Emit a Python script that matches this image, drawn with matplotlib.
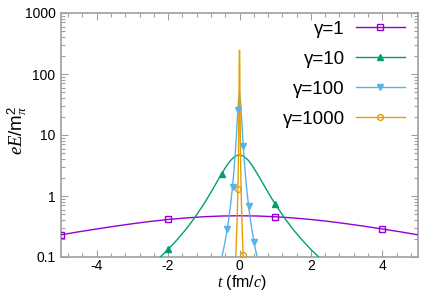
import matplotlib
matplotlib.use("Agg")
import matplotlib.pyplot as plt
from matplotlib.ticker import FixedLocator, MultipleLocator, LogLocator, NullFormatter, FixedFormatter

plt.rcParams['font.family'] = ['Liberation Sans', 'DejaVu Sans']
plt.rcParams['mathtext.fontset'] = 'custom'
plt.rcParams['mathtext.rm'] = 'Liberation Sans'
plt.rcParams['mathtext.it'] = 'Liberation Serif:italic'
plt.rcParams['axes.unicode_minus'] = False

# ---- data ----
labels = ['γ=1', 'γ=10', 'γ=100', 'γ=1000']

t1 = [-5, -4.5, -4, -3.5, -3, -2.5, -2, -1.5, -1, -0.5, 0, 0.5, 1, 1.5, 2, 2.5, 3, 3.5, 4, 4.5, 5]
e1 = [0.231, 0.259, 0.288, 0.319, 0.351, 0.383, 0.412, 0.437, 0.457, 0.470, 0.474,
      0.470, 0.457, 0.437, 0.412, 0.383, 0.351, 0.319, 0.288, 0.259, 0.231]
m1 = [0, 6, 12, 18]

t10 = [-2.5, -2.25, -2, -1.75, -1.5, -1.25, -1, -0.875, -0.75, -0.625, -0.5, -0.375, -0.25, -0.125, 0,
       0.125, 0.25, 0.375, 0.5, 0.625, 0.75, 0.875, 1, 1.25, 1.5, 1.75, 2, 2.25, 2.5]
e10 = [0.0717, 0.0963, 0.133, 0.191, 0.284, 0.445, 0.737, 0.969, 1.29, 1.73, 2.31, 3.04, 3.83, 4.48, 4.74,
       4.48, 3.83, 3.04, 2.31, 1.73, 1.29, 0.969, 0.737, 0.445, 0.284, 0.191, 0.133, 0.0963, 0.0717]
m10 = [2, 10, 22]

t100 = [-0.55, -0.5, -0.45, -0.4, -0.345, -0.3, -0.25, -0.195, -0.15, -0.125, -0.1, -0.075, -0.045, -0.025, 0,
        0.025, 0.05, 0.075, 0.105, 0.125, 0.15, 0.2, 0.255, 0.3, 0.35, 0.405, 0.45, 0.5, 0.55]
e100 = [0.0725, 0.0962, 0.131, 0.185, 0.285, 0.427, 0.717, 1.43, 2.84, 4.45, 7.37, 12.9, 25.9, 38.3, 47.4,
        38.3, 23.1, 12.9, 6.63, 4.45, 2.84, 1.33, 0.677, 0.427, 0.274, 0.179, 0.131, 0.0962, 0.0725]
m100 = [4, 7, 12, 18, 22, 25]

t1000 = [-0.125, -0.115, -0.105, -0.095, -0.085, -0.075, -0.065, -0.055, -0.045, -0.035, -0.025, -0.015, -0.005,
         0.005, 0.015, 0.025, 0.035, 0.045, 0.055, 0.065, 0.075, 0.085, 0.095, 0.105, 0.115, 0.125]
e1000 = [0.0629, 0.0805, 0.106, 0.143, 0.199, 0.289, 0.442, 0.725, 1.31, 2.74, 7.17, 28.4, 245,
         245, 28.4, 7.17, 2.74, 1.31, 0.725, 0.442, 0.289, 0.199, 0.143, 0.106, 0.0805, 0.0629]
m1000 = [8, 23]

xticks = [-4, -2, 0, 2, 4]
yticks = [0.1, 1, 10, 100, 1000]
yticklabels = ['0.1', '1', '10', '100', '1000']

colors = ['#9400D3', '#009E73', '#56B4E9', '#E69F00']
markers = ['s', '^', 'v', 'o']
fills = ['none', None, None, 'none']
msizes = [4.3, 4.5, 4.8, 4.2]

series = [(t1, e1, m1), (t10, e10, m10), (t100, e100, m100), (t1000, e1000, m1000)]

fig = plt.figure(figsize=(4.36, 2.99), dpi=100)
ax = fig.add_axes([61/436, 1 - 257/299, 357/436, 244/299])

handles = []
for (t, e, mi), c, mk, fc, ms in zip(series, colors, markers, fills, msizes):
    ln, = ax.plot(t, e, color=c, lw=1.0, zorder=3)
    kw = dict(markerfacecolor=fc) if fc is not None else {}
    mkr, = ax.plot([t[i] for i in mi], [e[i] for i in mi], ls='none', marker=mk, ms=ms,
                   color=c, markeredgewidth=1.0, zorder=4, **kw)
    handles.append((ln, mkr))

ax.set_xlim(-5, 5)
ax.set_yscale('log')
ax.set_ylim(0.1, 1000)
ax.xaxis.set_major_locator(FixedLocator(xticks))
ax.xaxis.set_minor_locator(MultipleLocator(0.4))
ax.yaxis.set_major_locator(FixedLocator(yticks))
ax.yaxis.set_major_formatter(FixedFormatter(yticklabels))
ax.yaxis.set_minor_locator(LogLocator(base=10, subs=range(2, 10)))
ax.yaxis.set_minor_formatter(NullFormatter())

gray = '#a0a0a0'
for s in ax.spines.values():
    s.set_color(gray)
    s.set_linewidth(1.2)
ax.tick_params(which='both', direction='in', top=True, right=True, color=gray, width=0.8,
               labelsize=10, labelcolor='black')
ax.tick_params(axis='x', which='both', pad=1.5)
ax.tick_params(axis='y', which='both', pad=4)
ax.tick_params(which='major', length=5)
ax.tick_params(which='minor', length=3)

ax.set_xlabel(r'$t$ (fm/$c$)', fontsize=11.5)
ax.set_ylabel(r'$eE/\mathrm{m}_{\pi}^{2}$', fontsize=13.5)
ax.xaxis.set_label_coords(0.507, -0.064)
ax.yaxis.set_label_coords(-0.09, 0.52)

leg = ax.legend(handles, labels, loc='upper right', bbox_to_anchor=(0.963, 0.968),
                frameon=False, markerfirst=False, fontsize=13.5, handlelength=2.6,
                handletextpad=0.6, labelspacing=0.68, borderpad=0, borderaxespad=0)

fig.savefig('out.png', dpi=100)
